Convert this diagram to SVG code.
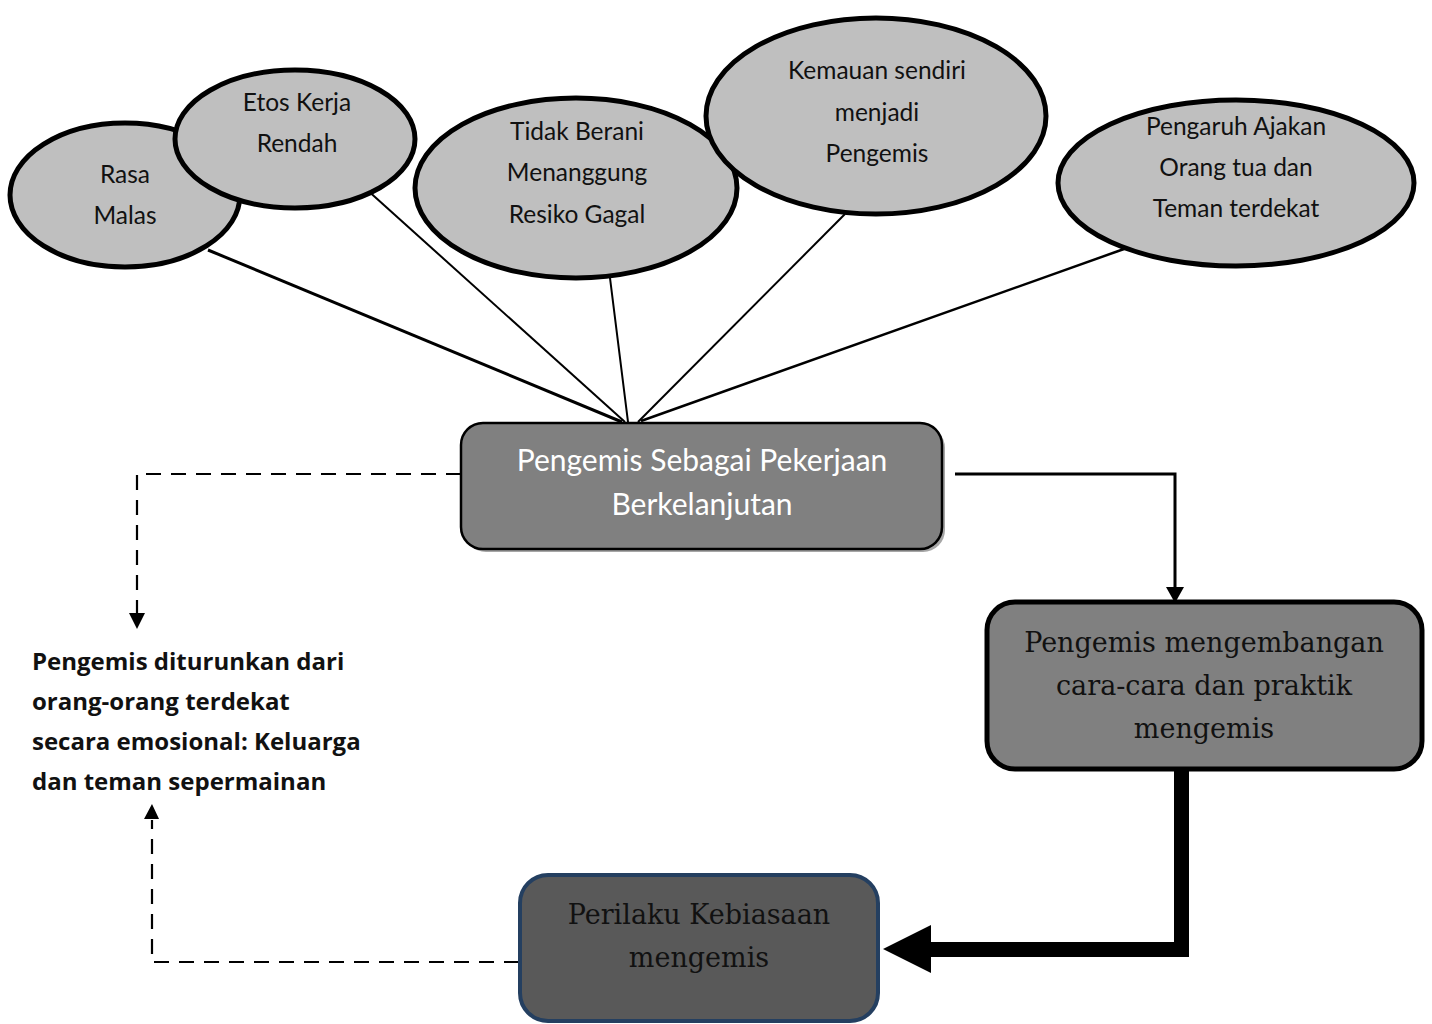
<svg xmlns="http://www.w3.org/2000/svg" width="1432" height="1024" viewBox="0 0 1432 1024">
<defs>
<style>
.ell{fill:#BFBFBF;stroke:#000;stroke-width:5}
.et{font-family:Lato,"Open Sans",sans-serif;font-size:24.5px;fill:#111;text-anchor:middle}
.ln{stroke:#000;fill:none}
.dash{stroke:#000;stroke-width:2.2;fill:none;stroke-dasharray:15 10}
.sv{font-family:"DejaVu Serif","Liberation Serif",serif;font-size:27px;fill:#111;text-anchor:middle}
</style>
</defs>
<rect width="1432" height="1024" fill="#fff"/>
<g id="connectors">
<line class="ln" x1="208" y1="250" x2="622" y2="422" stroke-width="3"/>
<line class="ln" x1="365" y1="188" x2="625" y2="422" stroke-width="2"/>
<line class="ln" x1="610" y1="278" x2="628" y2="422" stroke-width="2"/>
<line class="ln" x1="845" y1="214" x2="638" y2="422" stroke-width="2"/>
<line class="ln" x1="1124" y1="249" x2="641" y2="421" stroke-width="2.5"/>
<path class="ln" d="M955,474 H1175 V588" stroke-width="3"/>
<path d="M1166,587 L1184,587 L1175,603 z" fill="#000"/>
<path d="M461,474 H137 V614" class="dash"/>
<path d="M129,613 L145,613 L137,629 z" fill="#000"/>
<path d="M519,962 H152 V820" class="dash"/>
<path d="M144,819 L159,819 L152,804 z" fill="#000"/>
<path d="M1181.5,762 V949.5 H928" stroke="#000" stroke-width="15" fill="none"/>
<path d="M931,925 L931,973 L883,949 z" fill="#000"/>
</g>
<g id="n1"><ellipse class="ell" cx="125" cy="195" rx="115" ry="72"/><text class="et" x="125" y="183">Rasa</text><text class="et" x="125" y="224">Malas</text></g>
<g id="n2"><ellipse class="ell" cx="295" cy="139" rx="120" ry="69"/><text class="et" x="297" y="111">Etos Kerja</text><text class="et" x="297" y="152">Rendah</text></g>
<g id="n3"><ellipse class="ell" cx="576" cy="188" rx="161" ry="90"/><text class="et" x="577" y="140">Tidak Berani</text><text class="et" x="577" y="181">Menanggung</text><text class="et" x="577" y="223">Resiko Gagal</text></g>
<g id="n4"><ellipse class="ell" cx="876" cy="116" rx="170" ry="98"/><text class="et" x="877" y="79">Kemauan sendiri</text><text class="et" x="877" y="121">menjadi</text><text class="et" x="877" y="162">Pengemis</text></g>
<g id="n5"><ellipse class="ell" cx="1236" cy="183" rx="178" ry="83"/><text class="et" x="1236" y="135">Pengaruh Ajakan</text><text class="et" x="1236" y="176">Orang tua dan</text><text class="et" x="1236" y="217">Teman terdekat</text></g>
<g id="n6">
<rect x="464" y="426" width="481" height="126" rx="22" fill="#A6A6A6"/>
<rect x="461" y="423" width="481" height="126" rx="22" fill="#808080" stroke="#000" stroke-width="2.5"/>
<text x="702" y="471" font-family="Lato,'Open Sans',sans-serif" font-size="30" fill="#fff" text-anchor="middle">Pengemis Sebagai Pekerjaan</text>
<text x="702" y="515" font-family="Lato,'Open Sans',sans-serif" font-size="30" fill="#fff" text-anchor="middle">Berkelanjutan</text>
</g>
<g id="n7">
<rect x="987" y="602" width="435" height="167" rx="28" fill="#808080" stroke="#000" stroke-width="5"/>
<text class="sv" x="1204" y="652">Pengemis mengembangan</text>
<text class="sv" x="1204" y="695">cara-cara dan praktik</text>
<text class="sv" x="1204" y="738">mengemis</text>
</g>
<g id="n8">
<rect x="520" y="875" width="358" height="146" rx="28" fill="#595959" stroke="#243F60" stroke-width="4"/>
<text class="sv" x="699" y="924">Perilaku Kebiasaan</text>
<text class="sv" x="699" y="967">mengemis</text>
</g>
<g id="n9" font-family="'Open Sans',Lato,sans-serif" font-size="24" font-weight="bold" fill="#111">
<text x="32" y="670">Pengemis diturunkan dari</text>
<text x="32" y="710">orang-orang terdekat</text>
<text x="32" y="750">secara emosional: Keluarga</text>
<text x="32" y="790">dan teman sepermainan</text>
</g>
</svg>
